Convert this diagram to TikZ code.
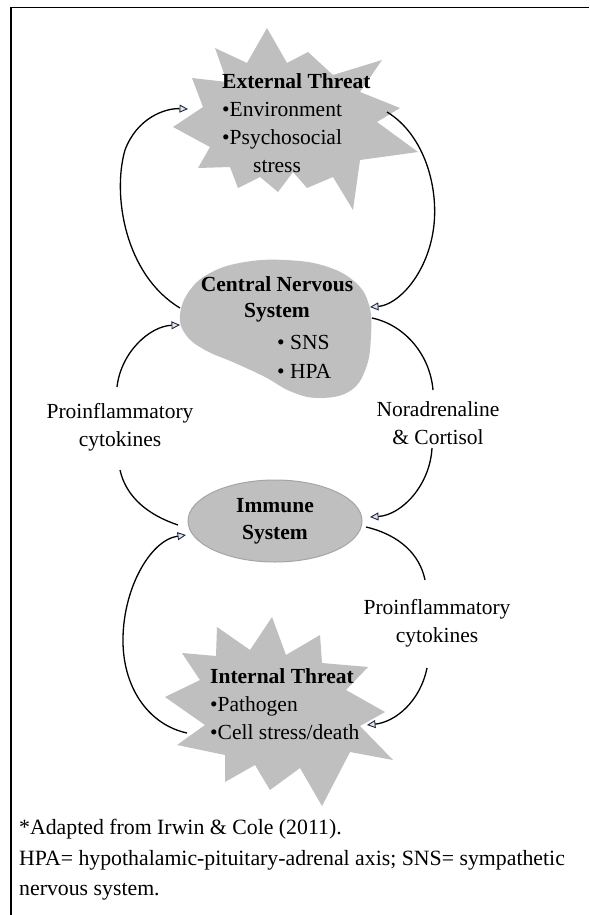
\documentclass[tikz,border=0pt]{standalone}
\usepackage{fontspec}
\setmainfont{Liberation Serif}
\usetikzlibrary{arrows.meta,shapes.geometric}
\definecolor{burst}{RGB}{191,191,191}
\definecolor{ovalline}{RGB}{165,165,165}
\definecolor{tipline}{RGB}{30,40,70}
\tikzset{
  fig/.style={font=\fontsize{21.5}{28}\selectfont},
  lbl/.style={fig, align=center, inner sep=0pt},
  flow/.style={line width=1.3pt, black},
  into/.style={flow, -{Triangle[length=8.5pt,width=8pt,fill=burst!40,color=tipline,line width=0.9pt]}},
}
\begin{document}
\begin{tikzpicture}[x=1pt,y=-1pt]
\useasboundingbox (0,0) rectangle (589,915);
\fill[white] (0,0) rectangle (589,915);

% frame
\draw[line width=1.6pt] (11,915) -- (11,7.5) -- (589,7.5);

% external threat burst
\fill[burst] (267,28) -- (287,63) -- (308,52) -- (333,75) -- (382,60) -- (360,92)
  -- (400,108) -- (377,122) -- (418,152) -- (360,160) -- (353,210) -- (333,177)
  -- (307,188) -- (293,172) -- (278,192) -- (260,177) -- (238,188) -- (230,167)
  -- (198,168) -- (210,147) -- (173,127) -- (203,107) -- (192,78) -- (227,82)
  -- (215,48) -- (247,63) -- cycle;
\node[fig, anchor=north west, align=left, inner sep=0pt] (ext) at (222,73)
  {\textbf{External Threat}\\\textbullet Environment\\\textbullet Psychosocial\\\hspace*{31pt}stress};

% central nervous system blob
\fill[burst] plot[smooth cycle, tension=0.7] coordinates {
  (180,315) (190,290) (212,272) (245,262) (285,260) (325,266) (355,282)
  (369,305) (371,335) (366,368) (350,391) (320,398) (292,392) (265,377)
  (235,363) (205,350) (186,335)};
\node[lbl, font=\fontsize{21.5}{26}\selectfont\bfseries] (cns) at (277,299) {Central Nervous\\System};
\node[fig, anchor=west, align=left, inner sep=0pt, font=\fontsize{21.5}{29}\selectfont] (cnsl) at (277,357) {\textbullet\ SNS\\\textbullet\ HPA};

% immune system
\node[ellipse, fill=burst, draw=ovalline, line width=1pt, minimum width=174pt,
      minimum height=82pt, inner sep=0pt, align=center,
      font=\fontsize{21.5}{27}\selectfont\bfseries] (imm) at (275,521) {Immune\\System};

% internal threat burst
\fill[burst] (272,617) -- (286,655) -- (320,635) -- (322,663) -- (368,667) -- (346,690)
  -- (385,712) -- (360,726) -- (393,760) -- (350,752) -- (322,806) -- (300,768)
  -- (270,790) -- (255,765) -- (225,782) -- (225,755) -- (177,745) -- (205,725)
  -- (165,697) -- (200,680) -- (182,653) -- (216,656) -- (217,627) -- (250,650) -- cycle;
\node[fig, anchor=north west, align=left, inner sep=0pt] (int) at (210,668)
  {\textbf{Internal Threat}\\\textbullet Pathogen\\\textbullet Cell stress/death};

% signal labels
\node[lbl] (pl) at (120,427) {Proinflammatory\\cytokines};
\node[lbl] (nc) at (438,423) {Noradrenaline\\\& Cortisol};
\node[lbl] (pr) at (437,623) {Proinflammatory\\cytokines};

% attachment points
\coordinate (cnsA) at (180,308);
\coordinate (extA) at (188,109);
\coordinate (extB) at (387,112);
\coordinate (cnsB) at (370,307);
\coordinate (cnsC) at (180,325);
\coordinate (cnsD) at (372,318);
\coordinate (immA) at (178,525);
\coordinate (immB) at (186,535);
\coordinate (immC) at (370,517);
\coordinate (immD) at (366,527);
\coordinate (intA) at (187,733);
\coordinate (intB) at (367,725);
\coordinate (plT) at (117,387);
\coordinate (plB) at (120,470);
\coordinate (ncT) at (433,390);
\coordinate (ncB) at (432,448);
\coordinate (prT) at (425,580);
\coordinate (prB) at (427,668);

% feedback loops
\draw[into] (cnsA) .. controls (125,275) and (112,195) .. (125,150)
  .. controls (137,118) and (165,108) .. (extA);
\draw[into] (extB) .. controls (425,135) and (440,190) .. (433,232)
  .. controls (426,275) and (398,305) .. (cnsB);
\draw[flow] (immA) .. controls (148,515) and (126,497) .. (plB);
\draw[into] (plT) .. controls (121,352) and (150,326) .. (cnsC);
\draw[flow] (cnsD) .. controls (405,325) and (430,355) .. (ncT);
\draw[into] (ncB) .. controls (430,485) and (402,515) .. (immC);
\draw[flow] (immD) .. controls (400,535) and (420,555) .. (prT);
\draw[into] (prB) .. controls (420,702) and (395,722) .. (intB);
\draw[into] (intA) .. controls (150,725) and (124,690) .. (123,643)
  .. controls (122,590) and (150,540) .. (immB);

% note
\node[fig, anchor=north west, align=left, inner sep=0pt, font=\fontsize{21.8}{30.5}\selectfont] (note) at (19,819)
  {*Adapted from Irwin \& Cole (2011).\\HPA= hypothalamic-pituitary-adrenal axis; SNS= sympathetic\\nervous system.};
\end{tikzpicture}
\end{document}
